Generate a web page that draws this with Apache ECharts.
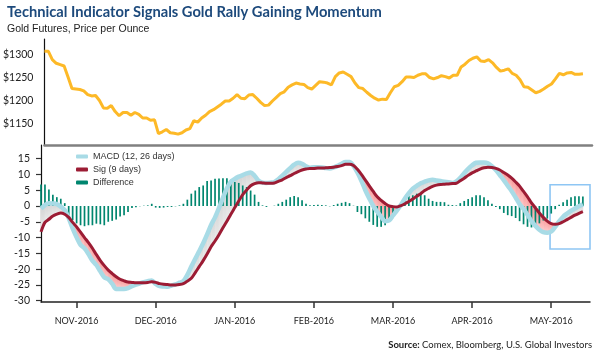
<!DOCTYPE html>
<html><head><meta charset="utf-8">
<script src="https://cdn.jsdelivr.net/npm/echarts@6/dist/echarts.min.js"></script>
<style>html,body{margin:0;padding:0;background:#fff}#c{width:600px;height:358px}</style>
</head><body><div id="c"></div>
<script>
// ---- data ----
const monthLabels = ['NOV-2016','DEC-2016','JAN-2016','FEB-2016','MAR-2016','APR-2016','MAY-2016'];
const monthStartIdx = [9,29,49,69,89,109,129];
const priceTicks = [1150,1200,1250,1300];
const macdTicks = [-30,-25,-20,-15,-10,-5,0,5,10,15];

const gold = [1308,1308,1290,1282,1279,1276,1252,1227,1226,1225,
1222,1214,1211,1212,1201,1185,1184,1190,1177,1168,
1175,1175,1169,1175,1171,1163,1163,1158,1159,1129,
1133,1138,1131,1130,1128,1131,1137,1140,1157,1154,
1163,1169,1177,1181,1187,1193,1200,1200,1206,1214,
1206,1205,1213,1214,1206,1197,1190,1191,1200,1208,
1216,1220,1230,1235,1239,1237,1236,1229,1226,1234,
1242,1241,1239,1235,1253,1261,1263,1258,1253,1239,
1229,1227,1219,1212,1206,1202,1204,1203,1218,1231,
1234,1242,1252,1252,1251,1256,1259,1259,1251,1248,
1251,1255,1253,1250,1256,1256,1274,1280,1288,1293,
1296,1287,1286,1290,1283,1273,1265,1267,1270,1260,
1256,1246,1231,1230,1224,1218,1221,1226,1232,1237,
1248,1260,1257,1261,1262,1258,1258,1259];

const macd = [-0.8,0.3,0.9,0.8,0.6,-0.2,-1.3,-3.8,-7.1,-9.9,
-12.3,-13.4,-15.2,-17.3,-18.7,-20.7,-22.6,-23.2,-24.6,-26.3,
-26.3,-26.3,-26.0,-25.4,-24.9,-24.5,-24.1,-23.8,-23.6,-24.7,
-25.4,-25.5,-25.6,-25.2,-24.8,-24.3,-23.8,-21.8,-19.2,-16.7,
-14.3,-11.8,-9.0,-6.0,-3.6,-0.6,2.6,5.6,7.7,8.6,
9.3,9.8,10.3,10.6,9.6,8.0,7.4,7.3,7.4,7.6,
8.5,9.6,10.8,12.0,13.1,13.7,13.4,12.6,12.1,12.3,
12.3,12.2,12.0,11.9,12.2,12.7,13.4,13.9,13.9,12.7,
10.6,8.0,5.0,2.4,0.0,-1.8,-3.4,-4.8,-4.6,-3.0,
-1.4,0.4,2.4,4.1,5.5,6.4,7.2,7.7,8.1,8.3,
8.1,7.9,7.7,7.5,7.3,7.8,8.9,10.4,11.8,12.9,
13.7,13.8,13.8,13.5,12.6,11.4,9.8,8.2,6.4,4.7,
2.7,0.6,-0.9,-2.8,-4.8,-6.3,-7.5,-8.3,-8.5,-8.1,
-6.6,-4.9,-3.4,-2.4,-1.5,-0.8,-0.1,0.5];

const sig = [-8.2,-5.2,-4.2,-3.2,-2.6,-2.2,-2.6,-3.6,-5.2,-6.6,
-8.3,-10.0,-11.6,-13.4,-15.4,-17.3,-18.9,-20.3,-21.4,-22.4,
-23.2,-23.7,-24.1,-24.2,-24.3,-24.3,-24.3,-24.2,-24.0,-24.2,
-24.6,-24.8,-24.9,-25.0,-25.0,-24.9,-24.6,-23.8,-22.9,-21.1,
-19.2,-17.3,-15.2,-12.9,-11.1,-9.1,-6.9,-4.8,-2.6,-0.5,
1.6,3.6,5.1,6.4,7.1,7.4,7.3,7.2,7.2,7.3,
7.8,8.3,9.0,9.6,10.3,10.9,11.4,11.7,11.9,11.9,
12.0,12.0,12.1,12.2,12.3,12.5,12.8,13.2,13.2,12.8,
11.6,10.0,8.2,6.4,4.6,2.9,1.8,0.8,0.0,-0.2,
-0.3,0.1,0.7,1.4,2.2,3.1,3.9,4.9,5.6,6.2,
6.6,6.8,6.9,7.0,7.1,7.2,8.0,8.8,9.7,10.5,
11.1,11.7,12.1,12.3,12.2,11.9,11.4,10.6,9.8,8.8,
7.6,6.3,4.6,2.9,1.0,-0.6,-2.2,-3.6,-4.8,-5.6,
-5.8,-5.6,-5.0,-4.3,-3.6,-2.9,-2.3,-1.8];

const diff = [6.8,6.8,5.2,3.6,2.8,2.3,0.9,-2.9,-4.5,-5.5,
-6.1,-6.4,-6.1,-6.1,-5.6,-5.8,-6.1,-5.0,-4.7,-4.3,
-3.3,-2.9,-1.9,-0.6,-0.4,-0.1,0.1,0.2,0.7,-0.5,
-0.6,-0.5,-0.3,-0.3,-0.1,
0.2,0.7,2.0,3.9,4.9,6.0,6.5,7.9,8.1,8.6,
8.7,8.8,8.8,8.3,7.6,7.3,6.5,6.0,4.9,3.6,
1.3,0.2,-0.3,0.0,0.1,0.7,1.3,2.0,2.8,3.2,
2.8,1.8,0.7,0.2,0.3,
0.4,0.3,0.2,-0.1,0.3,0.7,1.0,1.3,0.9,0.1,
-1.9,-2.6,-3.9,-5.0,-6.0,-6.6,-6.6,-6.1,-4.7,-3.3,
-1.4,0.2,2.3,3.1,3.4,3.9,3.7,3.4,2.3,1.6,
1.3,1.3,1.2,0.4,0.3,0.2,
0.9,1.6,2.2,2.8,3.4,3.4,2.8,1.8,0.7,-0.3,
-1.0,-2.2,-2.9,-3.2,-3.8,-4.8,-5.8,-6.6,-6.8,-6.3,
-5.5,-4.6,-4.0,-2.4,-1.0,0.4,1.2,2.0,2.8,3.1,
3.1,3.0];

// highlight box (data coordinates: day index / MACD value)
const boxFrom = [128.7, 6.75], boxTo = [139.7, -13.6];

// ---- chart ----
const COND = "Lato,'Liberation Sans',sans-serif";
const SANS = "'Liberation Sans',Arial,sans-serif";
const pair = arr => arr.map((v, i) => [i, v]);
const bandData = [];
for (let i = 0; i < macd.length - 1; i++) bandData.push([i, macd[i], sig[i], macd[i + 1], sig[i + 1]]);

const grayFill = {type:'linear',x:0,y:0,x2:0,y2:1,colorStops:[{offset:0,color:'#d3d3d3'},{offset:1,color:'#ececec'}]};
const pinkFill = {type:'linear',x:0,y:0,x2:0,y2:1,colorStops:[{offset:0,color:'#f99494'},{offset:1,color:'#fdd2d2'}]};

function renderBand(params, api) {
  const i = api.value(0), m0 = api.value(1), s0 = api.value(2), m1 = api.value(3), s1 = api.value(4);
  const d0 = m0 - s0, d1 = m1 - s1;
  const shapes = [];
  const poly = (pts, pos) => {
    const f = pos ? grayFill : pinkFill;
    shapes.push({type:'polygon', shape:{points: pts.map(p => api.coord(p))},
      style:{fill: f, stroke: f, lineWidth: 0.6}});
  };
  if (d0 * d1 >= 0) {
    poly([[i, m0], [i + 1, m1], [i + 1, s1], [i, s0]], (d0 + d1) > 0);
  } else {
    const t = d0 / (d0 - d1);
    const xc = i + t, yc = m0 + t * (m1 - m0);
    poly([[i, m0], [xc, yc], [i, s0]], d0 > 0);
    poly([[xc, yc], [i + 1, m1], [i + 1, s1]], d1 > 0);
  }
  return {type:'group', children: shapes};
}

const chart = echarts.init(document.getElementById('c'), null, {renderer:'canvas'});
chart.setOption({
  animation: false,
  backgroundColor: '#fff',
  title: [
    {text:'Technical Indicator Signals Gold Rally Gaining Momentum', left:7, top:5, padding:0,
     textStyle:{fontFamily:COND, fontWeight:'bold', fontSize:14.7, color:'#1d4a7c'}},
    {text:'Gold Futures, Price per Ounce', left:7, top:24, padding:0,
     textStyle:{fontFamily:SANS, fontWeight:'normal', fontSize:10.5, color:'#222'}},
    {text:'{b|Source:} Comex, Bloomberg, U.S. Global Investors', right:8, top:340, padding:0,
     textStyle:{fontFamily:COND, fontWeight:'normal', fontSize:9.5, color:'#222',
       rich:{b:{fontFamily:COND, fontWeight:'bold', fontSize:9.5, color:'#222'}}}}
  ],
  legend: {
    data:['MACD (12, 26 days)','Sig (9 days)','Difference'],
    orient:'vertical', left:76, top:152, padding:0, itemWidth:12, itemHeight:4, itemGap:4,
    icon:'roundRect', selectedMode:false,
    textStyle:{fontFamily:SANS, fontSize:9, color:'#333'}
  },
  grid: [
    {left:41, right:8, top:39, height:106},
    {left:41, right:10, top:145, height:157}
  ],
  xAxis: [
    {gridIndex:0, type:'value', min:0, max:139.3,
     axisLine:{show:true, onZero:false, lineStyle:{color:'#808080', width:2.5}},
     axisTick:{show:false}, axisLabel:{show:false}, splitLine:{show:false}},
    {gridIndex:1, type:'value', min:0, max:138.8,
     axisLine:{show:true, onZero:false, lineStyle:{color:'#222', width:1.5}},
     axisTick:{show:true, length:6, customValues: monthStartIdx, lineStyle:{color:'#333', width:1.5}},
     axisLabel:{customValues: monthStartIdx, formatter: v => monthLabels[monthStartIdx.indexOf(v)],
       margin:15, fontFamily:COND, fontSize:9, color:'#222'},
     splitLine:{show:false}}
  ],
  yAxis: [
    {gridIndex:0, type:'value', min:1104.3, max:1334.8,
     axisLine:{show:true, lineStyle:{color:'#111', width:1.2}},
     axisTick:{show:false},
     axisLabel:{customValues: priceTicks, formatter: v => '$' + v, margin:11,
       fontFamily:COND, fontSize:10.5, color:'#222'},
     splitLine:{show:false}},
    {gridIndex:1, type:'value', min:-30.41, max:19.32,
     axisLine:{show:true, lineStyle:{color:'#111', width:1.2}},
     axisTick:{show:true, length:5, customValues: macdTicks, lineStyle:{color:'#333', width:1.2}},
     axisLabel:{customValues: macdTicks, margin:11, fontFamily:COND, fontSize:10.5, color:'#222'},
     splitLine:{show:false}}
  ],
  series: [
    {name:'Gold', type:'line', xAxisIndex:0, yAxisIndex:0, data: pair(gold),
     symbol:'none', lineStyle:{color:'#fdb927', width:3}, itemStyle:{color:'#fdb927'}},
    {name:'band', type:'custom', xAxisIndex:1, yAxisIndex:1, data: bandData,
     encode:{x:0, y:[1,2]}, renderItem: renderBand, silent:true, z:1},
    {name:'Difference', type:'bar', xAxisIndex:1, yAxisIndex:1, data: pair(diff),
     barWidth:1.7, itemStyle:{color:'#00866f'}, clip:false, z:2,
     markArea:{silent:true, itemStyle:{color:'rgba(0,0,0,0)', borderColor:'#8ec6f4', borderWidth:1.6},
       data:[[{coord: boxFrom}, {coord: boxTo}]]}},
    {name:'MACD (12, 26 days)', type:'line', xAxisIndex:1, yAxisIndex:1, data: pair(macd),
     symbol:'none', smooth:0.3, lineStyle:{color:'#a8dbe6', width:4.5}, itemStyle:{color:'#a8dbe6'}, z:3},
    {name:'Sig (9 days)', type:'line', xAxisIndex:1, yAxisIndex:1, data: pair(sig),
     symbol:'none', smooth:0.3, lineStyle:{color:'#9c1c34', width:3}, itemStyle:{color:'#9c1c34'}, z:4}
  ]
});
</script></body></html>
